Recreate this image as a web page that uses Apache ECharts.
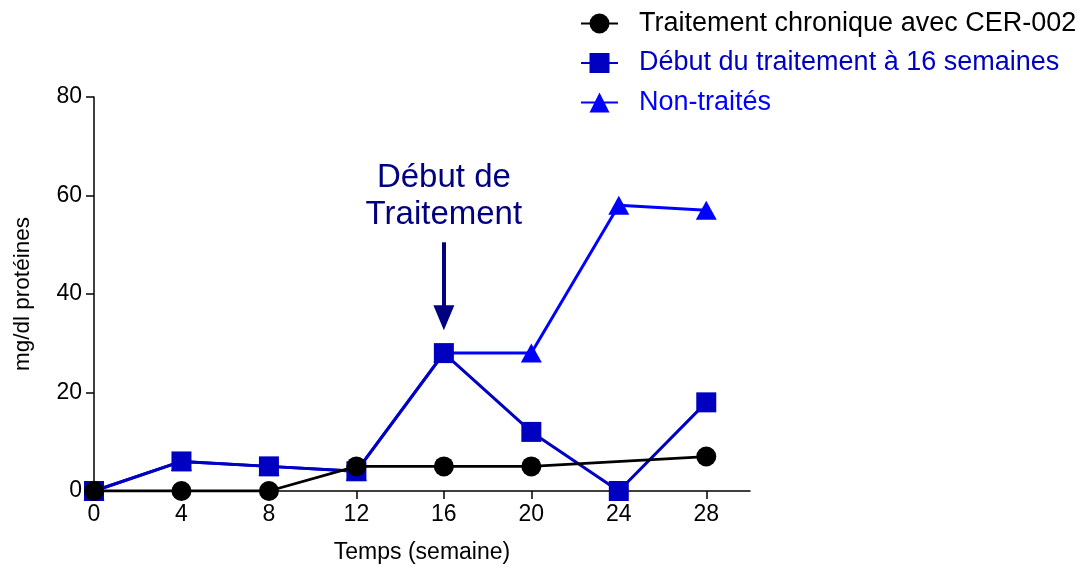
<!DOCTYPE html>
<html>
<head>
<meta charset="utf-8">
<script src="https://cdn.jsdelivr.net/npm/echarts@6/dist/echarts.min.js"></script>
<style>
html,body{margin:0;padding:0;background:#fff;}
#chart{width:1080px;height:570px;}
</style>
</head>
<body>
<div id="chart"></div>
<script>
// ---- data ----
const xTicks = [0, 4, 8, 12, 16, 20, 24, 28];
const yTicks = [0, 20, 40, 60, 80];
const seriesNames = ['Traitement chronique avec CER-002', 'Début du traitement à 16 semaines', 'Non-traités'];
const chroniqueX = [0, 4, 8, 12, 16, 20, 28];
const chroniqueY = [0, 0, 0, 5, 5, 5, 7];
const debutX = [0, 4, 8, 12, 16, 20, 24, 28];
const debutY = [0, 6, 5, 4, 28, 12, 0, 18];
const nonTraitesX = [0, 4, 8, 12, 16, 20, 24, 28];
const nonTraitesY = [0, 6, 5, 4, 28, 28, 58, 57];
const annotationText = 'Début de\nTraitement';
const annotationX = 16;
const annotationTextY = 59.8;
const arrowFromY = 50.5;
const arrowToY = 35.2;

const FONT = '"Liberation Sans", Arial, sans-serif';
const pairs = (xs, ys) => xs.map((x, i) => [x, ys[i]]);

const chart = echarts.init(document.getElementById('chart'));
chart.setOption({
  animation: false,
  backgroundColor: '#fff',
  textStyle: { fontFamily: FONT },
  grid: { left: 94, right: 330, top: 97, bottom: 79, containLabel: false },
  legend: {
    orient: 'vertical',
    left: 580,
    top: 10,
    padding: 0,
    itemWidth: 37,
    itemHeight: 25,
    itemGap: 12.5,
    selectedMode: false,
    textStyle: { fontSize: 27, fontFamily: FONT, padding: [0, 0, 0, 16] },
    data: [
      { name: seriesNames[0], textStyle: { color: '#000000' } },
      { name: seriesNames[1], textStyle: { color: '#0000c0' } },
      { name: seriesNames[2], textStyle: { color: '#0000ff' } }
    ]
  },
  xAxis: {
    type: 'value',
    min: 0, max: 30, interval: 4,
    name: 'Temps (semaine)',
    nameLocation: 'middle',
    nameGap: 50,
    nameTextStyle: { fontSize: 23, color: '#000', fontFamily: FONT },
    splitLine: { show: false },
    axisLine: { show: true, onZero: false, lineStyle: { color: '#000', width: 1.5 } },
    axisTick: { show: true, length: 8, lineStyle: { color: '#000', width: 1.5 }, customValues: xTicks },
    axisLabel: { fontSize: 23, color: '#000', margin: 12, customValues: xTicks, fontFamily: FONT }
  },
  yAxis: {
    type: 'value',
    min: 0, max: 80, interval: 20,
    name: 'mg/dl protéines',
    nameLocation: 'middle',
    nameGap: 60,
    nameRotate: 90,
    nameTextStyle: { fontSize: 22.5, color: '#000', fontFamily: FONT },
    splitLine: { show: false },
    axisLine: { show: true, lineStyle: { color: '#000', width: 1.5 } },
    axisTick: { show: true, length: 8, lineStyle: { color: '#000', width: 1.5 }, customValues: yTicks },
    axisLabel: { fontSize: 23, color: '#000', margin: 12, customValues: yTicks, fontFamily: FONT }
  },
  series: [
    {
      name: seriesNames[2],
      type: 'line',
      data: pairs(nonTraitesX, nonTraitesY),
      symbol: 'triangle',
      symbolSize: [21, 19],
      itemStyle: { color: '#0000ff' },
      lineStyle: { color: '#0000ff', width: 3 },
      z: 2
    },
    {
      name: seriesNames[1],
      type: 'line',
      data: pairs(debutX, debutY),
      symbol: 'rect',
      symbolSize: 20,
      itemStyle: { color: '#0000c0' },
      lineStyle: { color: '#0000c0', width: 3 },
      z: 3
    },
    {
      name: seriesNames[0],
      type: 'line',
      data: pairs(chroniqueX, chroniqueY),
      symbol: 'circle',
      symbolSize: 20,
      itemStyle: { color: '#000000' },
      lineStyle: { color: '#000000', width: 2.8 },
      z: 4,
      markLine: {
        silent: true,
        symbol: ['none', 'triangle'],
        symbolSize: [21, 25],
        label: { show: false },
        lineStyle: { color: '#000080', width: 4, type: 'solid' },
        itemStyle: { color: '#000080' },
        data: [[{ coord: [annotationX, arrowFromY] }, { coord: [annotationX, arrowToY] }]]
      },
      markPoint: {
        silent: true,
        symbol: 'circle',
        symbolSize: 0,
        label: {
          show: true,
          position: 'inside',
          formatter: annotationText,
          fontSize: 33,
          lineHeight: 37,
          color: '#000080',
          fontFamily: FONT,
          align: 'center',
          verticalAlign: 'middle'
        },
        data: [{ coord: [annotationX, annotationTextY] }]
      }
    }
  ]
});
</script>
</body>
</html>
